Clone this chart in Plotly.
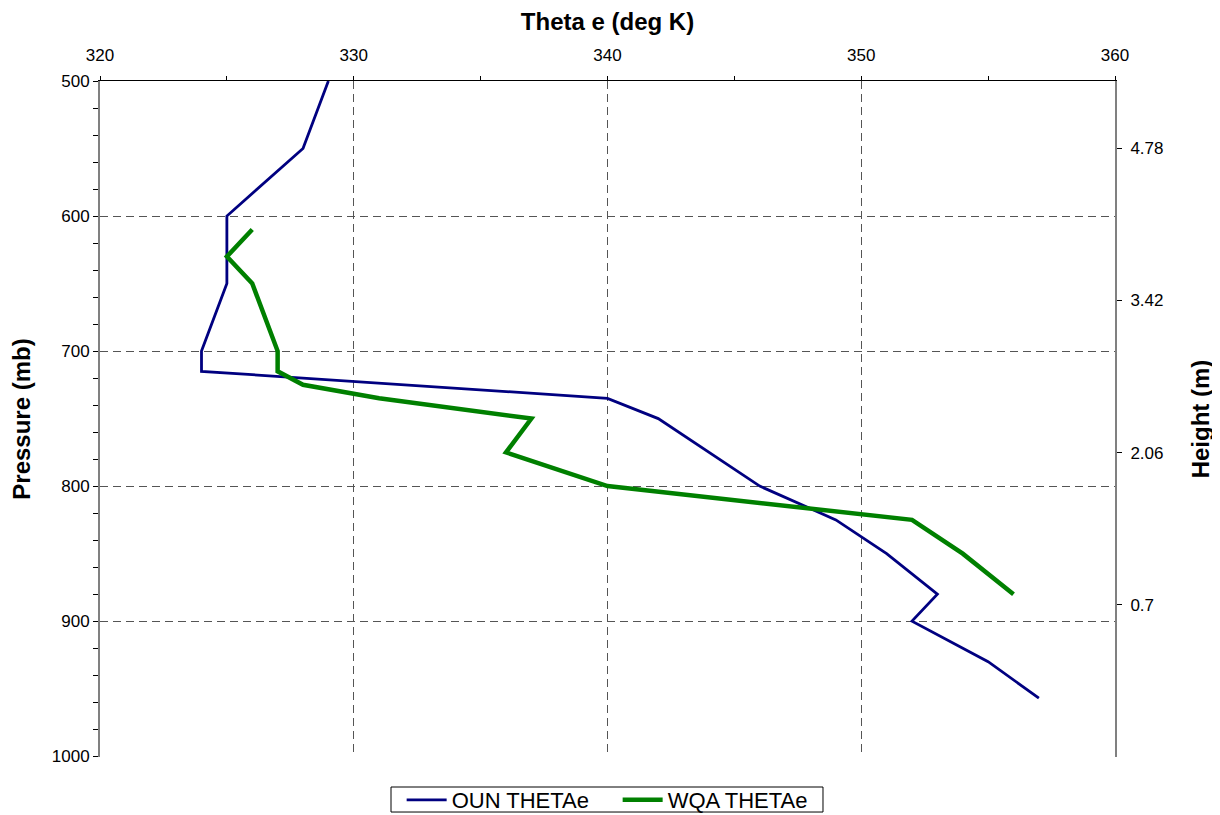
import plotly.graph_objects as go

# Data
theta_oun = [329, 328, 325, 325, 324, 324, 340, 342, 346, 349, 351, 353, 352, 355, 357]
pres_oun = [500, 550, 600, 650, 700, 715, 735, 750, 800, 825, 850, 880, 900, 930, 957]

theta_wqa = [326, 325, 326, 327, 327, 328, 331, 337, 336, 340, 352, 354, 356]
pres_wqa = [610, 630, 650, 700, 715, 725, 735, 750, 775, 800, 825, 850, 880]

x_ticks = [320, 330, 340, 350, 360]
p_ticks = [500, 600, 700, 800, 900, 1000]
height_ticks = [0.7, 2.06, 3.42, 4.78]
height_labels = ["0.7", "2.06", "3.42", "4.78"]

FONT = "Liberation Sans, Arial, sans-serif"
GRID = "#555555"

fig = go.Figure()
fig.add_trace(go.Scatter(x=theta_oun, y=pres_oun, mode="lines", name="OUN THETAe",
                         line=dict(color="#000080", width=2.8), hoverinfo="skip"))
fig.add_trace(go.Scatter(x=theta_wqa, y=pres_wqa, mode="lines", name="WQA THETAe",
                         line=dict(color="#008000", width=4.5), hoverinfo="skip"))
# invisible trace to anchor the right-hand height axis
fig.add_trace(go.Scatter(x=[None], y=[None], yaxis="y2", showlegend=False,
                         mode="lines", hoverinfo="skip"))

# legend frame (drawn as a paper-referenced rectangle so it hugs the text)
fig.add_shape(type="rect", xref="paper", yref="paper",
              x0=0.2867, x1=0.7123, y0=-0.0814, y1=-0.0444,
              line=dict(color="black", width=1), fillcolor="rgba(0,0,0,0)", layer="above")

fig.update_layout(
    width=1212, height=807,
    margin=dict(l=92, r=105, t=73, b=58, autoexpand=False),
    paper_bgcolor="white", plot_bgcolor="white",
    font=dict(family=FONT, size=17, color="black"),
    showlegend=True,
    legend=dict(orientation="h", xref="paper", x=0.51, xanchor="center",
                yref="container", y=0.0186, yanchor="middle",
                borderwidth=0, font=dict(size=22),
                bgcolor="rgba(0,0,0,0)", itemwidth=40, entrywidth=161, tracegroupgap=0),
    xaxis=dict(
        side="top", range=[320, 360], tickvals=x_ticks, automargin=False,
        showline=True, linecolor="black", linewidth=1,
        ticks="outside", ticklen=4, tickcolor="black", ticklabelstandoff=8,
        showgrid=True, gridcolor=GRID, griddash="8px,5px", gridwidth=1,
        minor=dict(dtick=5, ticks="outside", ticklen=4, tickcolor="black", showgrid=False),
        zeroline=False,
        title=dict(text="<b>Theta e (deg K)</b>", font=dict(size=24), standoff=14),
        tickfont=dict(size=17),
    ),
    yaxis=dict(
        range=[1000.6, 500], tickvals=p_ticks, automargin=False,
        showline=True, linecolor="#808080", linewidth=2,
        ticks="outside", ticklen=5, tickcolor="black",
        showgrid=True, gridcolor=GRID, griddash="8px,5px", gridwidth=1,
        minor=dict(dtick=20, ticks="outside", ticklen=5, tickcolor="black", showgrid=False),
        zeroline=False,
        title=dict(text="<b>Pressure (mb)</b>", font=dict(size=24), standoff=14),
        tickfont=dict(size=17),
    ),
    yaxis2=dict(
        overlaying="y", side="right", anchor="x", automargin=False,
        range=[-0.66, 5.38], tickvals=height_ticks, ticktext=height_labels,
        showline=True, linecolor="#808080", linewidth=2,
        ticks="outside", ticklen=5, tickcolor="black", ticklabelstandoff=5,
        showgrid=False, zeroline=False,
        title=dict(text="<b>Height (m)</b>", font=dict(size=24), standoff=30),
        tickfont=dict(size=17),
    ),
)

fig.write_html("out.html")
